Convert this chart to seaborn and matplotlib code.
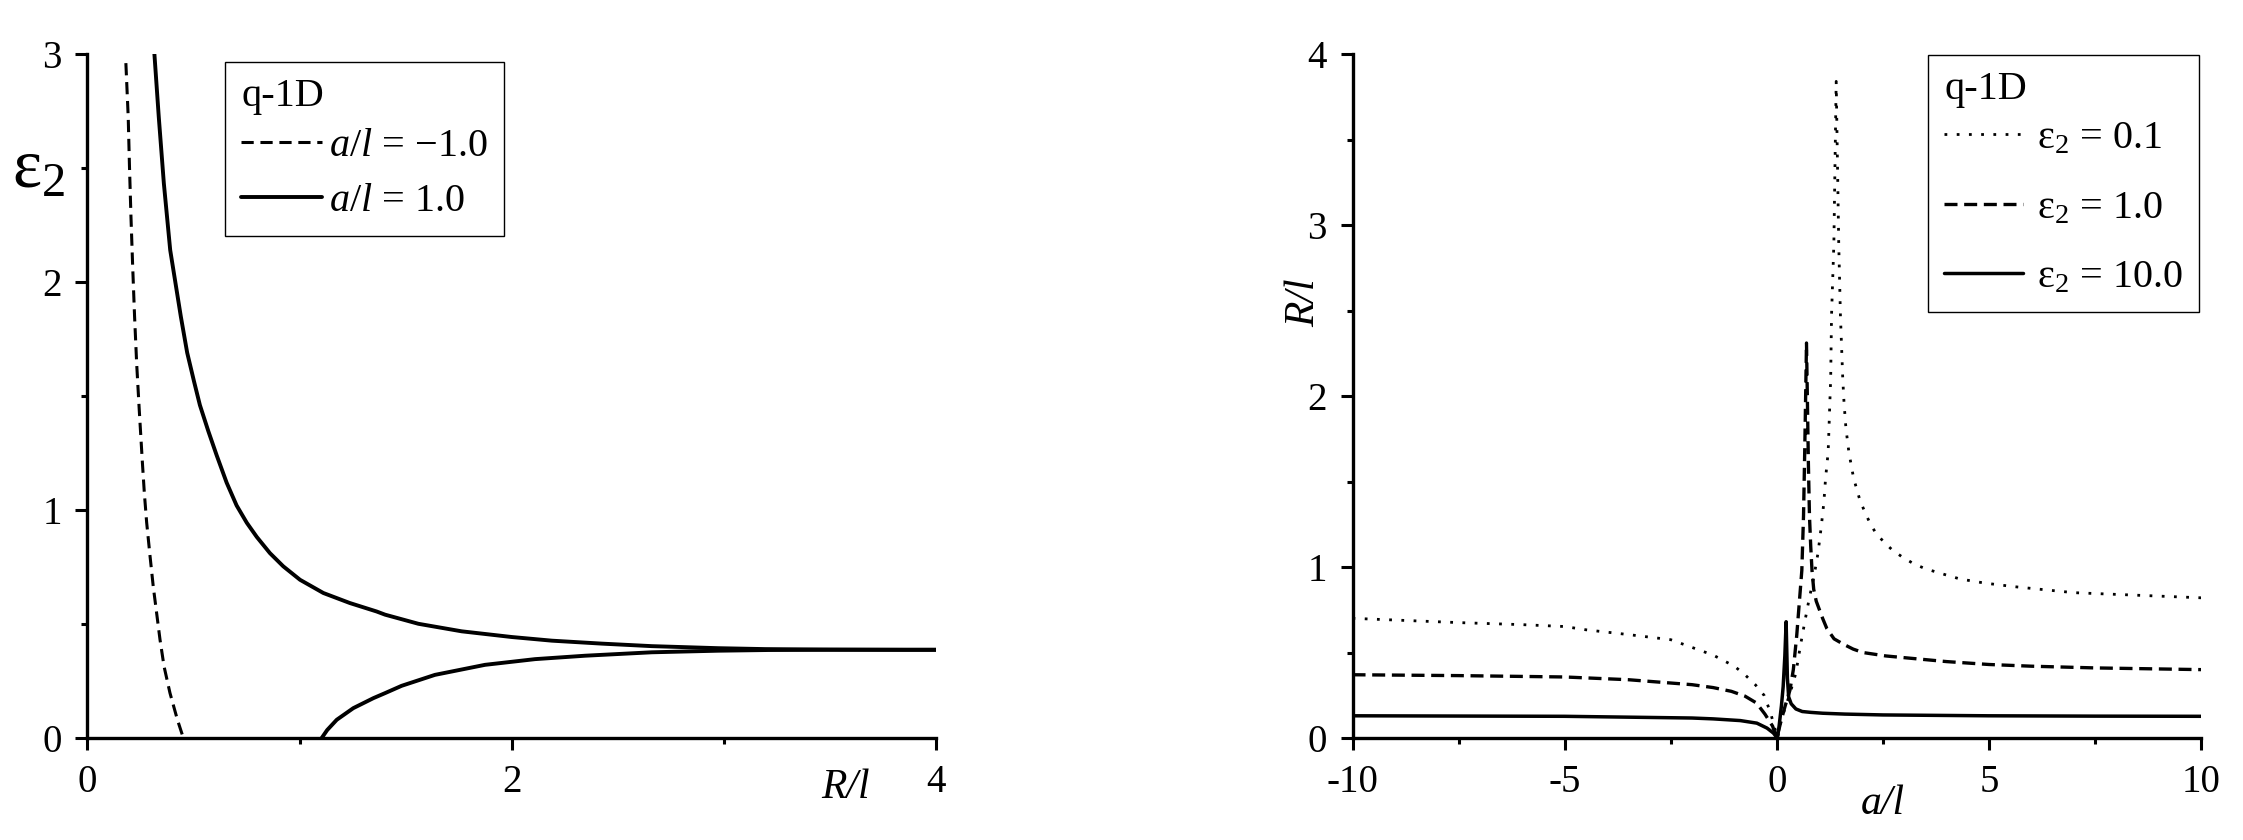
import matplotlib
matplotlib.use('Agg')
import matplotlib.pyplot as plt
import seaborn as sns
from matplotlib.lines import Line2D
from matplotlib.ticker import MultipleLocator

# left panel: eps2 vs R/l
neg_R = [0.181, 0.192, 0.198, 0.205, 0.213, 0.222, 0.232, 0.244, 0.259, 0.268, 0.279,
         0.295, 0.310, 0.326, 0.342, 0.361, 0.389, 0.424, 0.452]
neg_eps = [2.96, 2.725, 2.506, 2.286, 2.07, 1.849, 1.64, 1.44, 1.206, 1.075, 0.945,
           0.797, 0.665, 0.548, 0.431, 0.314, 0.197, 0.080, 0.0]

pos_up_R = [0.314, 0.336, 0.36, 0.39, 0.44, 0.47, 0.502, 0.53, 0.57, 0.609, 0.656, 0.703,
            0.751, 0.798, 0.86, 0.923, 1.002, 1.112, 1.237, 1.363, 1.403, 1.56, 1.764,
            2.0, 2.189, 2.425, 2.66, 2.974, 3.194, 3.5, 3.854, 4.0]
pos_up_eps = [3.02, 2.725, 2.433, 2.14, 1.849, 1.69, 1.565, 1.46, 1.345, 1.24, 1.12, 1.02,
              0.944, 0.882, 0.811, 0.753, 0.694, 0.636, 0.592, 0.555, 0.541, 0.501, 0.468,
              0.443, 0.427, 0.414, 0.403, 0.394, 0.390, 0.388, 0.387, 0.387]

pos_lo_R = [1.104, 1.13, 1.175, 1.253, 1.348, 1.403, 1.481, 1.638, 1.874, 2.11, 2.346,
            2.66, 2.974, 3.21, 3.5, 4.0]
pos_lo_eps = [0.0, 0.035, 0.080, 0.131, 0.175, 0.197, 0.229, 0.277, 0.321, 0.346, 0.361,
              0.376, 0.383, 0.386, 0.387, 0.387]

left_labels = [r'$\mathit{a/l}$ = −1.0', r'$\mathit{a/l}$ = 1.0']

# right panel: R/l vs a/l
e01_a = [-10, -9, -7.5, -6, -5, -4.5, -3.5, -2.5, -2, -1.5, -1, -0.75, -0.5, -0.3, -0.15,
         -0.05, 0.02, 0.1, 0.2, 0.31, 0.45, 0.55, 0.66, 0.76, 0.88, 0.97, 1.05, 1.11, 1.15,
         1.21, 1.23, 1.25, 1.27, 1.29, 1.345, 1.40, 1.46, 1.50, 1.555, 1.585, 1.63, 1.70,
         1.81, 1.96, 2.07, 2.19, 2.33, 2.51, 2.72, 2.95, 3.22, 3.5, 3.77, 4.04, 4.32, 4.9,
         5.6, 7.0, 8.5, 10]
e01_R = [0.70, 0.69, 0.675, 0.663, 0.652, 0.633, 0.605, 0.575, 0.53, 0.485, 0.42, 0.37,
         0.31, 0.25, 0.15, 0.06, 0.0, 0.1, 0.18, 0.26, 0.38, 0.53, 0.68, 0.81, 0.95, 1.08,
         1.24, 1.38, 1.52, 1.67, 1.81, 1.96, 2.10, 2.47, 2.89, 3.84, 2.89, 2.47, 2.10, 1.96,
         1.81, 1.67, 1.52, 1.39, 1.325, 1.26, 1.20, 1.15, 1.10, 1.06, 1.02, 0.99, 0.97,
         0.95, 0.93, 0.906, 0.885, 0.85, 0.835, 0.82]

e1_a = [-10, -7.5, -5, -3.5, -2, -1.5, -1.07, -0.75, -0.48, -0.28, -0.1, 0.0, 0.1, 0.2,
        0.31, 0.39, 0.47, 0.53, 0.59, 0.63, 0.66, 0.68, 0.70, 0.72, 0.745, 0.77, 0.80,
        0.83, 0.87, 0.93, 0.99, 1.08, 1.18, 1.35, 1.56, 1.8, 2.03, 2.57, 3.0, 4.0, 5.0,
        6.0, 7.5, 10]
e1_R = [0.37, 0.365, 0.357, 0.341, 0.312, 0.295, 0.273, 0.245, 0.205, 0.14, 0.07, 0.0,
        0.1, 0.19, 0.28, 0.40, 0.60, 0.79, 0.98, 1.3, 1.7, 2.0, 2.31, 2.0, 1.6, 1.3, 1.12,
        0.98, 0.87, 0.80, 0.76, 0.70, 0.64, 0.58, 0.55, 0.52, 0.50, 0.48, 0.47, 0.447,
        0.43, 0.42, 0.41, 0.40]

e10_a = [-10, -5, -2, -1.5, -0.86, -0.47, -0.23, -0.08, 0.01, 0.05, 0.11, 0.15, 0.19,
         0.22, 0.25, 0.28, 0.34, 0.45, 0.6, 0.8, 1.08, 1.6, 2.5, 5, 7.5, 10]
e10_R = [0.13, 0.127, 0.117, 0.112, 0.102, 0.087, 0.058, 0.029, 0.0, 0.06, 0.19, 0.30,
         0.48, 0.68, 0.35, 0.24, 0.20, 0.17, 0.155, 0.15, 0.145, 0.14, 0.135, 0.13, 0.128,
         0.127]

right_labels = [r'$\mathrm{ε}_\mathrm{2}$ = 0.1', r'$\mathrm{ε}_\mathrm{2}$ = 1.0',
                r'$\mathrm{ε}_\mathrm{2}$ = 10.0']
right_xticks = [-10, -5, 0, 5, 10]
right_xticklabels = ['-10', '-5', '0', '5', '10']

sns.set_style('ticks', {'axes.edgecolor': 'black', 'xtick.color': 'black',
                        'ytick.color': 'black', 'text.color': 'black',
                        'axes.labelcolor': 'black'})
plt.rcParams['font.family'] = ['Liberation Serif', 'DejaVu Serif']
plt.rcParams['mathtext.fontset'] = 'custom'
plt.rcParams['mathtext.rm'] = 'Liberation Serif'
plt.rcParams['mathtext.it'] = 'Liberation Serif:italic'
plt.rcParams['axes.unicode_minus'] = False

fig = plt.figure(figsize=(22.43, 8.4), dpi=100)
ax1 = fig.add_axes([0.039, 0.1214, 0.3783, 0.8143])
ax2 = fig.add_axes([0.603, 0.1214, 0.3783, 0.8143])

dash_left = (0, (4.0, 2.2))
dash_right = (0, (3.9, 2.0))
dot_right = (0, (1.0, 3.4))

# left panel curves
sns.lineplot(x=neg_R, y=neg_eps, ax=ax1, color='black', linewidth=2.2, sort=False, estimator=None)
ax1.lines[-1].set_linestyle(dash_left)
sns.lineplot(x=pos_up_R, y=pos_up_eps, ax=ax1, color='black', linewidth=2.8, sort=False, estimator=None)
sns.lineplot(x=pos_lo_R, y=pos_lo_eps, ax=ax1, color='black', linewidth=2.8, sort=False, estimator=None)

# right panel curves
sns.lineplot(x=e01_a, y=e01_R, ax=ax2, color='black', linewidth=2.0, sort=False, estimator=None)
ax2.lines[-1].set_linestyle(dot_right)
sns.lineplot(x=e1_a, y=e1_R, ax=ax2, color='black', linewidth=2.4, sort=False, estimator=None)
ax2.lines[-1].set_linestyle(dash_right)
sns.lineplot(x=e10_a, y=e10_R, ax=ax2, color='black', linewidth=2.5, sort=False, estimator=None)

for ax in (ax1, ax2):
    sns.despine(ax=ax)
    for s in ('left', 'bottom'):
        ax.spines[s].set_linewidth(2.4)
    ax.tick_params(which='major', length=8.6, width=2.2, direction='out', labelsize=28, pad=10)
    ax.tick_params(which='minor', length=4.3, width=2.2, direction='out')

ax1.set_xlim(0, 4)
ax1.set_ylim(0, 3)
ax1.xaxis.set_major_locator(MultipleLocator(2))
ax1.xaxis.set_minor_locator(MultipleLocator(1))
ax1.yaxis.set_major_locator(MultipleLocator(1))
ax1.yaxis.set_minor_locator(MultipleLocator(0.5))
ax1.set_xlabel('R/l', fontsize=30, fontstyle='italic')
ax1.xaxis.set_label_coords(0.893, -0.044)
ax1.set_ylabel(r'$\mathrm{ε}_\mathrm{2}$', fontsize=50, rotation=0, ha='center', va='center')
ax1.yaxis.set_label_coords(-0.058, 0.83)

ax2.set_xlim(-10, 10)
ax2.set_ylim(0, 4)
ax2.set_xticks(right_xticks)
ax2.set_xticklabels(right_xticklabels)
ax2.xaxis.set_minor_locator(MultipleLocator(2.5))
ax2.yaxis.set_major_locator(MultipleLocator(1))
ax2.yaxis.set_minor_locator(MultipleLocator(0.5))
ax2.set_xlabel('a/l', fontsize=30, fontstyle='italic')
ax2.xaxis.set_label_coords(0.625, -0.068)
ax2.set_ylabel('R/l', fontsize=30, fontstyle='italic', va='center')
ax2.yaxis.set_label_coords(-0.057, 0.637)

h_left = [Line2D([], [], color='black', lw=2.2, linestyle=dash_left),
          Line2D([], [], color='black', lw=2.8)]
leg1 = ax1.legend(h_left, left_labels, title='q-1D', alignment='left', loc='upper left',
                  bbox_to_anchor=(0.162, 0.988), borderaxespad=0, fontsize=29,
                  title_fontsize=29, handlelength=2.0, handletextpad=0.18,
                  labelspacing=0.45, borderpad=0.4, fancybox=False, edgecolor='black',
                  framealpha=1)
leg1.get_frame().set_linewidth(1.0)
# gap between legend title and first entry
leg1._legend_box.sep = 0.3 * 29

h_right = [Line2D([], [], color='black', lw=2.0, linestyle=dot_right),
           Line2D([], [], color='black', lw=2.4, linestyle=dash_right),
           Line2D([], [], color='black', lw=2.5)]
leg2 = ax2.legend(h_right, right_labels, title='q-1D', alignment='left', loc='upper right',
                  bbox_to_anchor=(0.9975, 0.9985), borderaxespad=0, fontsize=29,
                  title_fontsize=29, handlelength=1.95, handletextpad=0.35,
                  labelspacing=0.8, borderpad=0.4, fancybox=False, edgecolor='black',
                  framealpha=1)
leg2.get_frame().set_linewidth(1.0)
leg2._legend_box.sep = 0.3 * 29

fig.savefig('out.png', dpi=100)
